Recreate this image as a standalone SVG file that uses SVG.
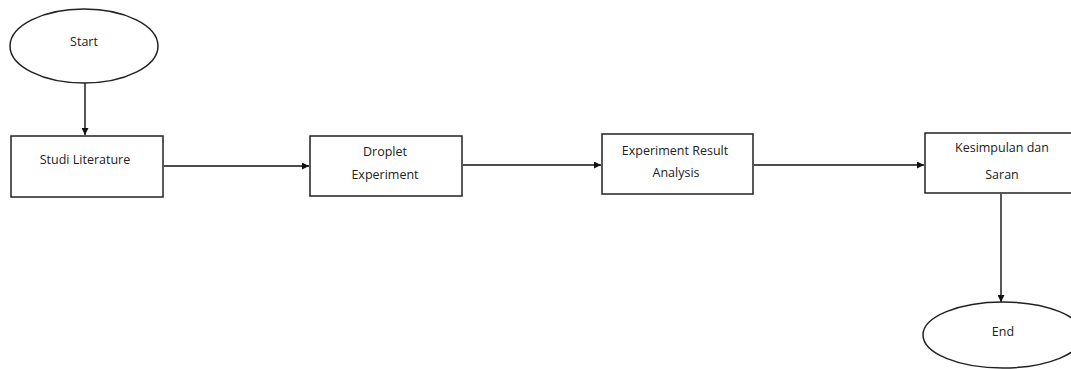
<svg xmlns="http://www.w3.org/2000/svg" width="1071" height="369" viewBox="0 0 1071 369">
<style>
.n{fill:#fff;stroke:#222;stroke-width:1.5}
.t{font-family:"Open Sans","Liberation Sans",sans-serif;font-size:12.5px;fill:#222;text-anchor:middle}
.c{stroke:#111;stroke-width:1.4;fill:none;marker-end:url(#ah)}
</style>
<defs>
<marker id="ah" viewBox="0 0 10 10" refX="10" refY="5" markerWidth="7" markerHeight="7" markerUnits="userSpaceOnUse" orient="auto">
<path d="M0,0 L10,5 L0,10 z" fill="#111"/>
</marker>
</defs>
<rect width="1071" height="369" fill="#fff"/>
<g id="connectors">
<line class="c" x1="85" y1="83" x2="85" y2="135"/>
<line class="c" x1="164" y1="166" x2="309" y2="166"/>
<line class="c" x1="463" y1="165" x2="601" y2="165"/>
<line class="c" x1="754" y1="165" x2="924" y2="165"/>
<line class="c" x1="1001" y1="194" x2="1001" y2="302"/>
</g>
<g id="start">
<ellipse class="n" cx="84" cy="46" rx="74" ry="37"/>
<text class="t" x="84" y="46">Start</text>
</g>
<g id="studi">
<rect class="n" x="11" y="136" width="152" height="61"/>
<text class="t" x="85" y="164">Studi Literature</text>
</g>
<g id="droplet">
<rect class="n" x="310" y="136" width="152" height="60"/>
<text class="t" x="385" y="156">Droplet</text>
<text class="t" x="385" y="179">Experiment</text>
</g>
<g id="analysis">
<rect class="n" x="602" y="134" width="151" height="60"/>
<text class="t" x="675" y="155">Experiment Result</text>
<text class="t" x="676" y="177">Analysis</text>
</g>
<g id="kesimpulan">
<rect class="n" x="925" y="133" width="152" height="60"/>
<text class="t" x="1002" y="152">Kesimpulan dan</text>
<text class="t" x="1002" y="179">Saran</text>
</g>
<g id="end">
<ellipse class="n" cx="1003" cy="335" rx="80" ry="33"/>
<text class="t" x="1003" y="336">End</text>
</g>
</svg>
